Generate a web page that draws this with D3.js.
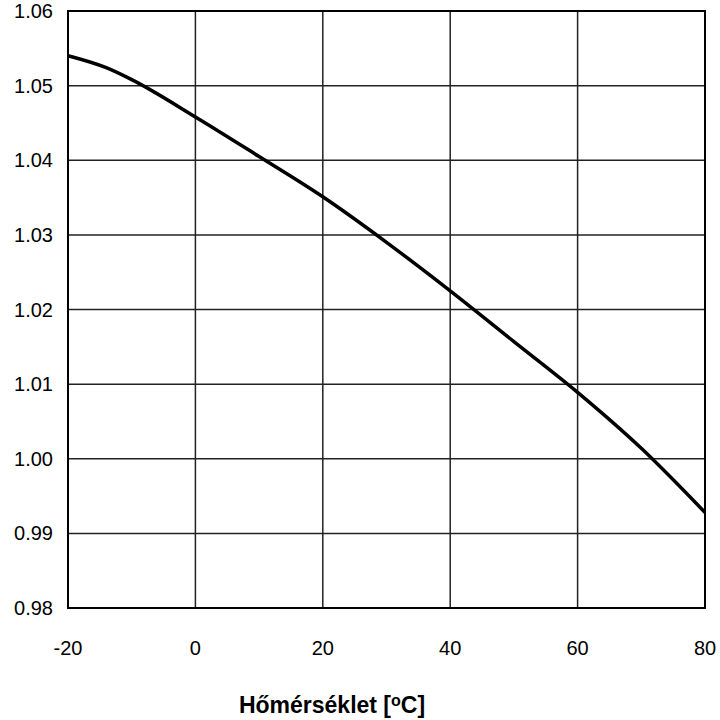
<!DOCTYPE html>
<meta charset="utf-8">
<body style="margin:0;background:#fff">
    <div id="chart"></div>
</body>
<script src="https://d3js.org/d3.v7.min.js"></script>
<style>
    text { font-family: "Liberation Sans", Arial, sans-serif; fill: #000; }
    .grid line { stroke: #222; stroke-width: 1.5px; }
</style>
<script>
    // temperature [°C] and values
    var temps  = [-20, -14, -10, 0, 10, 20, 30, 40, 50, 60, 70, 80];
    var values = [1.0540, 1.0524, 1.0508, 1.0458, 1.0405, 1.0351, 1.0290, 1.0225, 1.0157, 1.0089, 1.0014, 0.9928];

    var xTicks = [-20, 0, 20, 40, 60, 80];
    var yTicks = [0.98, 0.99, 1.00, 1.01, 1.02, 1.03, 1.04, 1.05, 1.06];

    var width = 720,
        height = 720,
        margin = {top: 11, right: 15, bottom: 112, left: 68};

    var svg = d3.select("#chart")
        .append("svg")
            .attr("width", width)
            .attr("height", height);

    var x = d3.scaleLinear().domain([-20, 80]).range([margin.left, width - margin.right]);
    var y = d3.scaleLinear().domain([0.98, 1.06]).range([height - margin.bottom, margin.top]);

    var grid = svg.append("g").attr("class", "grid");

    grid.selectAll(".v")
        .data(xTicks)
        .enter().append("line")
            .attr("x1", d => x(d)).attr("x2", d => x(d))
            .attr("y1", y(0.98)).attr("y2", y(1.06));

    grid.selectAll(".h")
        .data(yTicks)
        .enter().append("line")
            .attr("x1", x(-20)).attr("x2", x(80))
            .attr("y1", d => y(d)).attr("y2", d => y(d));

    // frame
    svg.append("rect")
        .attr("x", x(-20)).attr("y", y(1.06))
        .attr("width", x(80) - x(-20))
        .attr("height", y(0.98) - y(1.06))
        .attr("fill", "none")
        .attr("stroke", "#000")
        .attr("stroke-width", 2);

    var line = d3.line()
        .x((d, i) => x(temps[i]))
        .y(d => y(d))
        .curve(d3.curveMonotoneX);

    svg.append("path")
        .datum(values)
        .attr("d", line)
        .attr("fill", "none")
        .attr("stroke", "#000")
        .attr("stroke-width", 3.5);

    // y tick labels
    svg.append("g").selectAll("text")
        .data(yTicks)
        .enter().append("text")
            .attr("x", 53)
            .attr("y", d => y(d))
            .attr("dy", "0.35em")
            .attr("text-anchor", "end")
            .attr("font-size", 20)
            .text(d => d.toFixed(2));

    // x tick labels
    svg.append("g").selectAll("text")
        .data(xTicks)
        .enter().append("text")
            .attr("x", d => x(d))
            .attr("y", 655)
            .attr("text-anchor", "middle")
            .attr("font-size", 20)
            .text(d => d);

    var title = svg.append("text")
        .attr("x", 332)
        .attr("y", 713)
        .attr("text-anchor", "middle")
        .attr("font-size", 23)
        .attr("font-weight", "bold");
    title.append("tspan").text("Hőmérséklet [");
    title.append("tspan").attr("font-size", 16).attr("dy", -7).text("o");
    title.append("tspan").attr("dy", 7).text("C]");
</script>
